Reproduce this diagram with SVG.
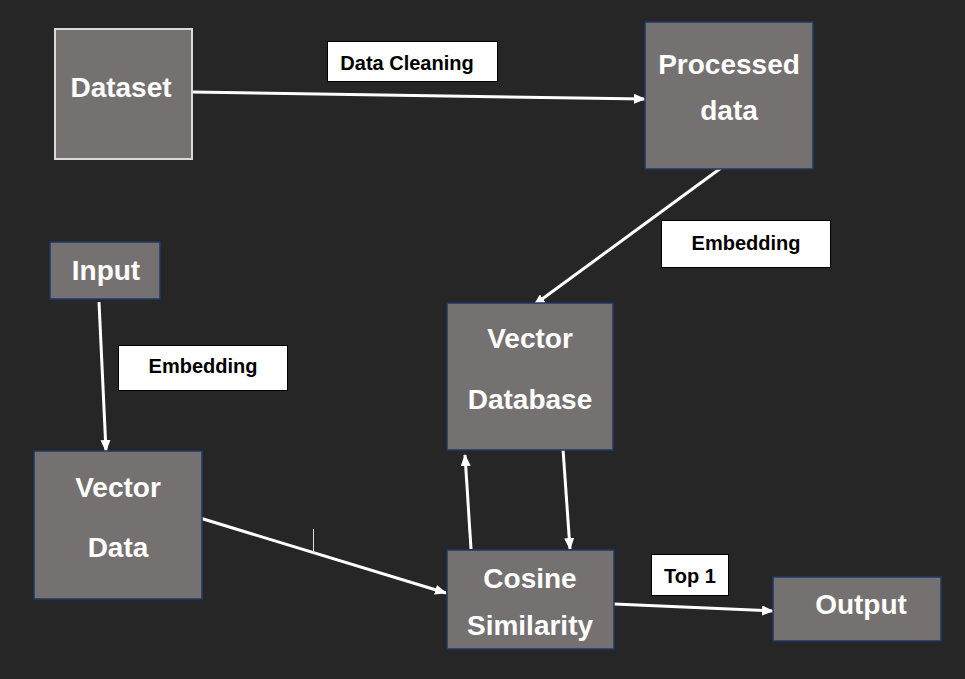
<svg xmlns="http://www.w3.org/2000/svg" width="965" height="679" viewBox="0 0 965 679">
<defs>
<style>
.box{fill:#767171;stroke:#1f3864;stroke-width:1.5}
.lbl{fill:#ffffff;stroke:#000000;stroke-width:1}
.t{font-family:"Liberation Sans",Arial,sans-serif;font-weight:bold;font-size:28px;fill:#ffffff;text-anchor:middle}
.s{font-family:"Liberation Sans",Arial,sans-serif;font-weight:bold;font-size:20px;fill:#000000;text-anchor:middle}
.c{stroke:#ffffff;stroke-width:3;fill:none;marker-end:url(#ah)}
</style>
<marker id="ah" markerUnits="userSpaceOnUse" markerWidth="12" markerHeight="10" refX="11" refY="5" orient="auto">
<path d="M0,0 L12,5 L0,10 z" fill="#ffffff"/>
</marker>
</defs>
<rect x="0" y="0" width="965" height="679" fill="#262626"/>
<g id="connectors">
<line class="c" x1="192" y1="92" x2="645" y2="99"/>
<line class="c" x1="721" y1="168" x2="534" y2="305"/>
<line class="c" x1="99" y1="302" x2="106" y2="451"/>
<line class="c" x1="200" y1="518" x2="446" y2="593"/>
<line class="c" x1="471" y1="549" x2="465" y2="455"/>
<line class="c" x1="563" y1="449" x2="570" y2="549"/>
<line class="c" x1="614" y1="604" x2="773" y2="611"/>
<line x1="313.5" y1="529" x2="313.5" y2="553" stroke="#e0e0e0" stroke-width="1"/>
</g>
<g id="dataset">
<rect x="55" y="29" width="137" height="130" fill="#767171" stroke="#d9d9d9" stroke-width="2"/>
<text class="t" x="121" y="97">Dataset</text>
</g>
<g id="processed-data">
<rect class="box" x="645" y="22" width="168" height="147"/>
<text class="t" x="729" y="74" font-size="27">Processed</text>
<text class="t" x="729" y="120">data</text>
</g>
<g id="input">
<rect class="box" x="50" y="242" width="110" height="57"/>
<text class="t" x="106" y="280">Input</text>
</g>
<g id="vector-database">
<rect class="box" x="447" y="303" width="166" height="147"/>
<text class="t" x="530" y="348">Vector</text>
<text class="t" x="530" y="409">Database</text>
</g>
<g id="vector-data">
<rect class="box" x="34" y="451" width="168" height="148"/>
<text class="t" x="118" y="497">Vector</text>
<text class="t" x="118" y="557">Data</text>
</g>
<g id="cosine-similarity">
<rect class="box" x="447" y="550" width="167" height="99"/>
<text class="t" x="530" y="588">Cosine</text>
<text class="t" x="530" y="635">Similarity</text>
</g>
<g id="output">
<rect class="box" x="773" y="577" width="168" height="64"/>
<text class="t" x="861" y="614">Output</text>
</g>
<g id="label-data-cleaning">
<rect class="lbl" x="327.5" y="41.5" width="170" height="40"/>
<text class="s" x="407" y="70">Data Cleaning</text>
</g>
<g id="label-embedding-1">
<rect class="lbl" x="661.5" y="220.5" width="169" height="47"/>
<text class="s" x="746" y="250">Embedding</text>
</g>
<g id="label-embedding-2">
<rect class="lbl" x="118.5" y="345.5" width="169" height="45"/>
<text class="s" x="203" y="373">Embedding</text>
</g>
<g id="label-top1">
<rect class="lbl" x="651.5" y="554.5" width="77" height="41"/>
<text class="s" x="690" y="583">Top 1</text>
</g>
</svg>
